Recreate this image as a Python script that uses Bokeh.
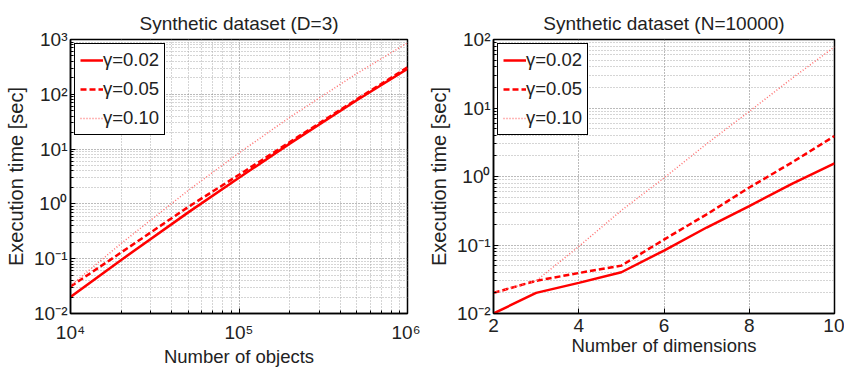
from bokeh.plotting import figure
from bokeh.layouts import row
from bokeh.models import FixedTicker, CustomJSTickFormatter, Legend, LegendItem, Range1d
from bokeh.embed import file_html
from bokeh.resources import INLINE

# ---- data: left panel (D=3) ----
n_objects = [1e4, 2e4, 5e4, 1e5, 2e5, 5e5, 1e6]
left_g002 = [0.02, 0.095, 0.70, 3.0, 12.6, 78, 293]
left_g005 = [0.031, 0.13, 0.88, 3.4, 13.4, 81, 310]
left_g010 = [0.032, 0.19, 1.76, 8.5, 38, 239, 870]

# ---- data: right panel (N=10000) ----
n_dims = [2, 3, 4, 5, 6, 7, 8, 9, 10]
right_g002 = [0.010, 0.020, 0.028, 0.040, 0.083, 0.18, 0.37, 0.78, 1.55]
right_g005 = [0.020, 0.030, 0.039, 0.050, 0.12, 0.28, 0.69, 1.6, 3.9]
right_g010 = [0.020, 0.030, 0.095, 0.32, 0.95, 3.0, 8.9, 27, 78]

series_labels = ["\u03b3=0.02", "\u03b3=0.05", "\u03b3=0.10"]
left_xticks = [1e4, 1e5, 1e6]
left_yticks = [1e-2, 1e-1, 1e0, 1e1, 1e2, 1e3]
right_xticks = [2, 4, 6, 8, 10]
right_yticks = [1e-2, 1e-1, 1e0, 1e1, 1e2]

FONT = "Liberation Sans"

sup_code = """
const sup = {'0':'\u2070','1':'\u00b9','2':'\u00b2','3':'\u00b3','4':'\u2074','5':'\u2075',
             '6':'\u2076','7':'\u2077','8':'\u2078','9':'\u2079','-':'\u207b'};
const e = Math.round(Math.log10(tick));
return '10' + String(e).split('').map(c => sup[c]).join('');
"""


def minor_log(ticks):
    out = []
    for t in ticks[:-1]:
        for k in range(2, 10):
            out.append(t * k)
    return out


def style(p, title):
    p.title.text = title
    p.title.align = "center"
    p.title.text_font = FONT
    p.title.text_font_size = "19px"
    p.title.text_font_style = "normal"
    p.title.text_color = "#222222"
    p.title.standoff = 12
    p.outline_line_color = "black"
    p.outline_line_width = 1.5
    p.outline_line_alpha = 1.0
    for ax in (p.xaxis[0], p.yaxis[0]):
        ax.major_label_text_font = FONT
        ax.major_label_text_font_size = "19px"
        ax.major_label_text_color = "#222222"
        ax.axis_label_text_font = FONT
        ax.axis_label_text_font_style = "normal"
        ax.axis_label_text_color = "#222222"
        ax.axis_line_color = "black"
        ax.axis_line_width = 1.5
        ax.major_tick_in = 5
        ax.major_tick_out = 0
        ax.minor_tick_in = 3
        ax.minor_tick_out = 0
        ax.major_tick_line_color = "black"
        ax.minor_tick_line_color = "black"
    p.xaxis[0].axis_label_text_font_size = "18.5px"
    p.yaxis[0].axis_label_text_font_size = "20px"
    p.xaxis[0].axis_label_standoff = 0
    p.yaxis[0].axis_label_standoff = 4
    p.yaxis[0].major_label_standoff = 3
    for g in (p.xgrid[0], p.ygrid[0]):
        g.grid_line_color = "#777777"
        g.grid_line_dash = "1 2"
        g.grid_line_width = 1
        g.minor_grid_line_color = "#aaaaaa"
        g.minor_grid_line_dash = "1 2"
        g.minor_grid_line_width = 1
    p.background_fill_color = "white"
    p.border_fill_color = "white"


def add_lines(p, x, ys):
    r1 = p.line(x, ys[0], line_color="#ff0000", line_width=2.5)
    r2 = p.line(x, ys[1], line_color="#ff0000", line_width=2.5, line_dash="6 3")
    r3 = p.line(x, ys[2], line_color="#ff7070", line_width=1.5, line_dash="1 2")
    legend = Legend(items=[LegendItem(label=series_labels[i], renderers=[r])
                           for i, r in enumerate([r1, r2, r3])],
                    location="top_left")
    legend.label_text_font = FONT
    legend.label_text_font_size = "18.5px"
    legend.label_text_color = "#222222"
    legend.border_line_color = "black"
    legend.border_line_width = 1.5
    legend.border_line_alpha = 1.0
    legend.background_fill_alpha = 1.0
    legend.glyph_width = 23
    legend.glyph_height = 20
    legend.label_height = 20
    legend.label_standoff = 0
    legend.spacing = 7
    legend.padding = 5
    legend.margin = 4
    p.add_layout(legend, "center")


# ---- left figure ----
p1 = figure(width=420, height=369, x_axis_type="log", y_axis_type="log",
            x_range=Range1d(1e4, 1e6), y_range=Range1d(1e-2, 1e3),
            output_backend="svg", toolbar_location=None,
            min_border_left=70, min_border_right=13, min_border_top=39, min_border_bottom=55)
style(p1, "Synthetic dataset (D=3)")
p1.xaxis[0].ticker = FixedTicker(ticks=left_xticks, minor_ticks=minor_log(left_xticks))
p1.yaxis[0].ticker = FixedTicker(ticks=left_yticks, minor_ticks=minor_log(left_yticks))
p1.xaxis[0].formatter = CustomJSTickFormatter(code=sup_code)
p1.yaxis[0].formatter = CustomJSTickFormatter(code=sup_code)
p1.xaxis[0].major_label_standoff = 8
p1.xaxis[0].axis_label = "Number of objects"
p1.yaxis[0].axis_label = "Execution time [sec]"
add_lines(p1, n_objects, [left_g002, left_g005, left_g010])

# ---- right figure ----
p2 = figure(width=424, height=369, y_axis_type="log",
            x_range=Range1d(2, 10), y_range=Range1d(1e-2, 1e2),
            output_backend="svg", toolbar_location=None,
            min_border_left=73, min_border_right=10, min_border_top=39, min_border_bottom=48)
style(p2, "Synthetic dataset (N=10000)")
p2.xaxis[0].ticker = FixedTicker(ticks=right_xticks, minor_ticks=[])
p2.yaxis[0].ticker = FixedTicker(ticks=right_yticks, minor_ticks=minor_log(right_yticks))
p2.yaxis[0].formatter = CustomJSTickFormatter(code=sup_code)
p2.xaxis[0].major_label_standoff = 5
p2.xaxis[0].axis_label = "Number of dimensions"
p2.yaxis[0].axis_label = "Execution time [sec]"
add_lines(p2, n_dims, [right_g002, right_g005, right_g010])

layout = row(p1, p2)
open("out.html", "w").write(file_html(layout, INLINE))
